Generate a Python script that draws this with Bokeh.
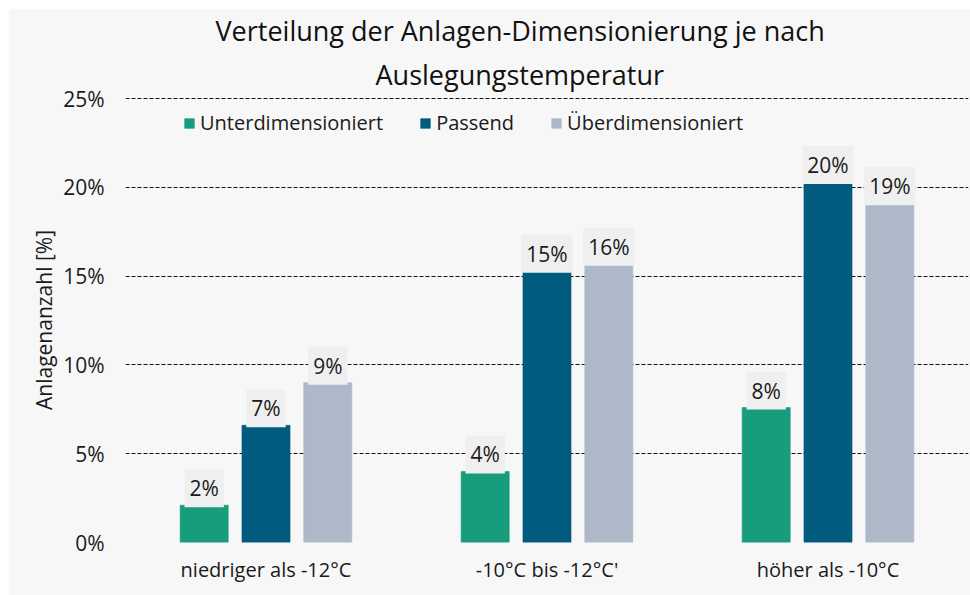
from bokeh.plotting import figure
from bokeh.models import (ColumnDataSource, FactorRange, Range1d, FixedTicker,
                          Legend, LegendItem, Title)
from bokeh.core.properties import value
from bokeh.transform import dodge
from bokeh.embed import file_html
from bokeh.resources import INLINE

# ---- data ----
categories = ["niedriger als -12°C", "-10°C bis -12°C'", "höher als -10°C"]
series_names = ["Unterdimensioniert", "Passend", "Überdimensioniert"]
unterdimensioniert = [2.1, 4.0, 7.6]
passend = [6.6, 15.3, 20.3]
ueberdimensioniert = [9.0, 15.7, 19.1]
y_ticks = [0, 5, 10, 15, 20, 25]
y_tick_labels = ["0%", "5%", "10%", "15%", "20%", "25%"]
colors = ["#179c7d", "#005b7f", "#adb8c9"]
title_lines = ["Verteilung der Anlagen-Dimensionierung je nach",
               "Auslegungstemperatur"]

FONT = "Open Sans"
BG = "#f7f7f7"

p = figure(width=962, height=587, x_range=FactorRange(*categories),
           y_range=Range1d(0, 25.06), output_backend="svg", toolbar_location=None,
           min_border_left=117, min_border_right=2, min_border_top=89,
           min_border_bottom=53, background_fill_color=BG,
           border_fill_color=BG, outline_line_color=None,
           margin=(8, 0, 0, 8))

t2 = Title(text=title_lines[1], align="left", offset=250, text_font=FONT,
           text_font_size="27px", text_font_style="normal", text_color="#111111",
           standoff=10)
t1 = Title(text=title_lines[0], align="left", offset=90, text_font=FONT,
           text_font_size="27px", text_font_style="normal", text_color="#111111",
           standoff=0, text_line_height=0.7)
p.add_layout(t2, "above")
p.add_layout(t1, "above")

series = [unterdimensioniert, passend, ueberdimensioniert]
offsets = [-0.22, 0.0, 0.22]
items = []
for name, vals, col, off in zip(series_names, series, colors, offsets):
    src = ColumnDataSource(dict(cat=categories, val=vals,
                                lbl=["%d%%" % round(v) for v in vals]))
    r = p.vbar(x=dodge("cat", off, range=p.x_range), top="val", width=0.171,
               source=src, fill_color=col, line_color=col, line_alpha=0.6)
    items.append(LegendItem(label=name, renderers=[r]))
    p.text(x=dodge("cat", off, range=p.x_range), y="val", text="lbl",
           source=src, text_align="center", text_baseline="middle",
           y_offset=-17, text_font=value(FONT), text_font_size="21px",
           text_color="#1a1a1a", background_fill_color="#efefef",
           padding=5)

legend = Legend(items=items, orientation="horizontal", location=(58, 406),
                padding=0, spacing=36, glyph_width=12, glyph_height=12,
                label_standoff=5, label_text_font=FONT,
                label_text_font_size="20px", label_text_color="#1a1a1a",
                background_fill_alpha=0, border_line_color=None)
p.add_layout(legend, "center")

p.xgrid.grid_line_color = None
p.ygrid.ticker = FixedTicker(ticks=y_ticks)
p.ygrid.grid_line_color = "#111111"
p.ygrid.grid_line_dash = "4 2"
p.ygrid.grid_line_width = 1

p.yaxis.ticker = FixedTicker(ticks=y_ticks)
p.yaxis.major_label_overrides = dict(zip(y_ticks, y_tick_labels))
p.yaxis.axis_label = "Anlagenanzahl [%]"
p.yaxis.axis_label_text_font = FONT
p.yaxis.axis_label_text_font_size = "21px"
p.yaxis.axis_label_text_font_style = "normal"
p.yaxis.axis_label_text_color = "#1a1a1a"
p.yaxis.axis_label_standoff = 2
p.yaxis.major_label_standoff = 21
for ax in (p.xaxis, p.yaxis):
    ax.axis_line_color = None
    ax.major_tick_line_color = None
    ax.minor_tick_line_color = None
    ax.major_tick_out = 0
    ax.major_tick_in = 0
    ax.minor_tick_out = 0
    ax.minor_tick_in = 0
    ax.major_label_text_font = FONT
    ax.major_label_text_color = "#1a1a1a"
p.yaxis.major_label_text_font_size = "21px"
p.xaxis.major_label_text_font_size = "20px"
p.xaxis.major_label_standoff = 13

open("out.html", "w").write(file_html(p, INLINE))
